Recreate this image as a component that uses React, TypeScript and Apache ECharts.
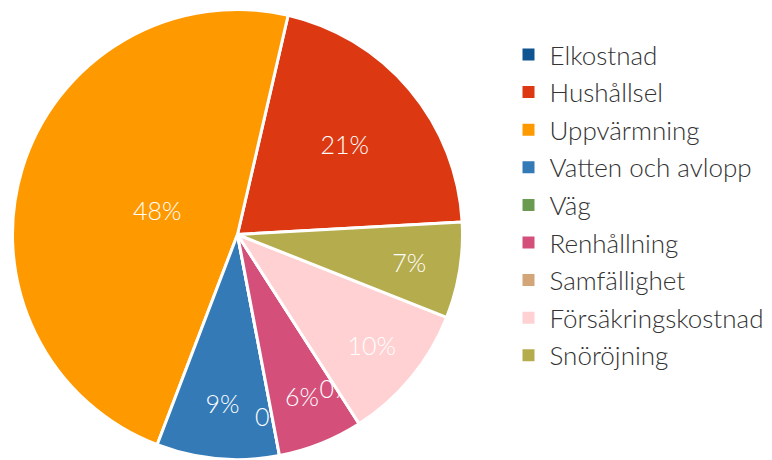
import React, { useEffect, useRef } from "react";
import * as echarts from "echarts";

const names = [
  "Elkostnad",
  "Hushållsel",
  "Uppvärmning",
  "Vatten och avlopp",
  "Väg",
  "Renhållning",
  "Samfällighet",
  "Försäkringskostnad",
  "Snöröjning",
];
const values = [0, 20.5, 47.8, 8.8, 0, 6.1, 0, 9.9, 6.9];
const colors = [
  "#0f5391",
  "#dc3912",
  "#ff9900",
  "#337ab7",
  "#6a9b50",
  "#d4507b",
  "#d3a67a",
  "#ffd1d2",
  "#b5ac4d",
];

// label ring (fraction of radius) per slice: label sits at ring middle
const labelRings: number[][] = [
  [0.6, 1],
  [0.22, 1],
  [0, 0.72],
  [0.48, 1],
  [0.62, 1],
  [0.52, 1],
  [0.6, 1],
  [0.52, 1],
  [0.52, 1],
];

const total = values.reduce((a, b) => a + b, 0);
const R = 225;
const CENTER = [237.5, 234.5];
const START = 3.2;
const FONT = "Lato";

export default function App() {
  const ref = useRef<HTMLDivElement>(null);
  useEffect(() => {
    if (!ref.current) return;
    const chart = echarts.init(ref.current, null, { renderer: "svg" });
    const common = {
      type: "pie",
      center: CENTER,
      startAngle: START,
      clockwise: false,
      avoidLabelOverlap: false,
      labelLayout: { hideOverlap: false, moveOverlap: null },
      silent: true,
      labelLine: { show: false },
      emphasis: { disabled: true },
    };
    const series: any[] = [];
    series.push({
      ...common,
      z: 1,
      radius: R,
      label: { show: false },
      itemStyle: { borderColor: "#fff", borderWidth: 3 },
      data: names.map((n, i) => ({
        name: n,
        value: values[i],
        itemStyle: { color: colors[i] },
      })),
    });
    names.forEach((_, i) => {
      series.push({
        ...common,
        z: 2 + 2 * i,
        radius: R,
        label: { show: false },
        data: names.map((n, j) => ({
          name: n,
          value: values[j],
          itemStyle:
            j === i
              ? { color: colors[j], borderColor: "#fff", borderWidth: 3 }
              : { color: "transparent", borderColor: "transparent", borderWidth: 0 },
        })),
      });
      series.push({
        ...common,
        z: 3 + 2 * i,
        radius: [labelRings[i][0] * R, labelRings[i][1] * R],
        data: names.map((n, j) => ({
          name: n,
          value: values[j],
          itemStyle: { color: "transparent", borderColor: "transparent", borderWidth: 0 },
          label: {
            show: j === i,
            position: "inside",
            color: "#fff",
            fontSize: 25,
            fontFamily: FONT,
            fontWeight: 300,
            formatter: () => Math.round((values[j] / total) * 100 + 1e-9) + "%",
          },
        })),
      });
    });
    chart.setOption({
      animation: false,
      backgroundColor: "#fff",
      legend: {
        orient: "vertical",
        left: 520.5,
        top: 41.5,
        padding: 0,
        icon: "rect",
        itemWidth: 14,
        itemHeight: 14,
        itemGap: 11.6,
        selectedMode: false,
        textStyle: {
          fontFamily: FONT,
          fontSize: 26,
          fontWeight: 300,
          lineHeight: 26,
          color: "#333",
          padding: [0, 0, 0, 9],
        },
        data: names.map((n, i) => ({ name: n, itemStyle: { color: colors[i] } })),
      },
      series,
    });
    return () => chart.dispose();
  }, []);
  return (
    <div
      ref={ref}
      style={{ position: "absolute", left: 0, top: 0, width: 772, height: 460 }}
    />
  );
}
